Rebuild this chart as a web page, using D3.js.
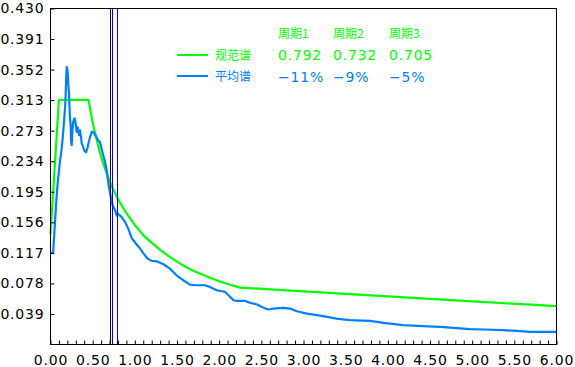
<!DOCTYPE html>
<html>
<head>
<meta charset="utf-8">
<script src="https://cdn.jsdelivr.net/npm/d3@7/dist/d3.min.js"></script>
<style>
  html, body { margin: 0; padding: 0; background: #ffffff; }
  svg { display: block; }
  .num { font-family: "DejaVu Sans", sans-serif; font-size: 14px; letter-spacing: 0.8px; }
  .cjk { font-family: "Noto Sans CJK SC", sans-serif; font-size: 12px; }
</style>
</head>
<body>
<svg id="chart" width="575" height="367"></svg>
<script>
// ---- data ----
const yTickLabels = ["0.039","0.078","0.117","0.156","0.195","0.234","0.273","0.313","0.352","0.391","0.430"];
const xMajorTicks = [0,0.5,1,1.5,2,2.5,3,3.5,4,4.5,5,5.5,6];
const xMinorTicks = [0,0.1,0.2,0.3,0.4,0.5,0.6,0.7,0.8,0.9,1,1.1,1.2,1.3,1.4,1.5,1.6,1.7,1.8,1.9,2,2.1,2.2,2.3,2.4,2.5,2.6,2.7,2.8,2.9,3,3.1,3.2,3.3,3.4,3.5,3.6,3.7,3.8,3.9,4,4.1,4.2,4.3,4.4,4.5,4.6,4.7,4.8,4.9,5,5.1,5.2,5.3,5.4,5.5,5.6,5.7,5.8,5.9,6];

// code spectrum (规范谱): [period, value]
const codeSpectrum = [[0,0.141],[0.1,0.313],[0.45,0.313],[0.5,0.284],[0.55,0.261],[0.6,0.240],[0.65,0.224],[0.7,0.209],[0.75,0.197],[0.8,0.186],[0.9,0.168],[1.0,0.153],[1.1,0.140],[1.2,0.130],[1.3,0.121],[1.4,0.113],[1.5,0.106],[1.6,0.0995],[1.7,0.094],[1.8,0.0895],[1.9,0.085],[2.0,0.081],[2.1,0.0775],[2.25,0.0728],[3.0,0.0680],[4.0,0.0615],[5.0,0.0553],[6.0,0.049]];

// average spectrum (平均谱): [period, value]
const avgSpectrum = [[0,0.117],[0.03,0.117],[0.04,0.133],[0.055,0.16],[0.07,0.185],[0.08,0.2],[0.093,0.215],[0.105,0.227],[0.113,0.236],[0.125,0.244],[0.133,0.252],[0.144,0.263],[0.152,0.274],[0.164,0.291],[0.172,0.302],[0.18,0.319],[0.184,0.336],[0.192,0.355],[0.204,0.349],[0.211,0.332],[0.219,0.323],[0.223,0.31],[0.231,0.289],[0.24,0.28],[0.243,0.263],[0.251,0.255],[0.259,0.272],[0.27,0.285],[0.282,0.289],[0.29,0.289],[0.302,0.28],[0.31,0.272],[0.322,0.278],[0.33,0.272],[0.338,0.268],[0.35,0.274],[0.362,0.265],[0.37,0.257],[0.381,0.255],[0.401,0.248],[0.421,0.246],[0.437,0.251],[0.449,0.257],[0.468,0.265],[0.488,0.272],[0.508,0.272],[0.528,0.268],[0.547,0.265],[0.567,0.261],[0.587,0.259],[0.607,0.25],[0.626,0.242],[0.646,0.234],[0.666,0.223],[0.686,0.206],[0.714,0.189],[0.737,0.178],[0.765,0.172],[0.785,0.165],[0.804,0.167],[0.844,0.163],[0.883,0.157],[0.923,0.148],[0.963,0.136],[1.022,0.128],[1.06,0.123],[1.10,0.117],[1.15,0.110],[1.2,0.107],[1.26,0.1065],[1.34,0.1027],[1.417,0.097],[1.496,0.0886],[1.575,0.0822],[1.654,0.0767],[1.73,0.0758],[1.83,0.0758],[1.89,0.0737],[1.97,0.0694],[2.07,0.0673],[2.11,0.063],[2.17,0.0566],[2.21,0.0558],[2.31,0.0558],[2.37,0.0532],[2.45,0.0512],[2.52,0.0473],[2.58,0.0448],[2.64,0.046],[2.76,0.0468],[2.84,0.046],[2.92,0.0426],[3.04,0.0396],[3.16,0.0375],[3.28,0.0353],[3.39,0.0332],[3.55,0.0311],[3.79,0.0302],[3.95,0.0276],[4.18,0.0247],[4.42,0.0234],[4.62,0.0225],[4.78,0.0212],[4.97,0.0196],[5.13,0.0192],[5.37,0.0183],[5.53,0.0174],[5.69,0.0161],[6.0,0.0161]];

// structure periods (vertical markers)
const periodMarkers = [0.702, 0.726, 0.785];
const markerColors = ["#00007a", "#0000ff", "#0000ff"];

// legend table
const seriesNames = ["规范谱", "平均谱"];
const seriesColors = ["#00ff00", "#0080ff"];
const periodHeaders = ["周期1", "周期2", "周期3"];
const codeValues = ["0.792", "0.732", "0.705"];
const diffValues = ["−11%", "−9%", "−5%"];

// ---- layout ----
const svg = d3.select("#chart");
const pL = 50.5, pR = 556.5, pT = 8.5, pB = 344.5;
const x = d3.scaleLinear().domain([0, 6]).range([pL, pR]);
const y = d3.scaleLinear().domain([0, 0.43]).range([pB, pT]);

// curves
const line = d3.line().x(d => x(d[0])).y(d => y(d[1]));
const series = [codeSpectrum, avgSpectrum];
svg.selectAll("path.curve").data(series).enter().append("path")
  .attr("class", "curve")
  .attr("d", line)
  .attr("fill", "none")
  .attr("stroke", (d, i) => seriesColors[i])
  .attr("stroke-width", 2.2)
  .attr("stroke-linejoin", "round");

// vertical markers
svg.selectAll("line.marker").data(periodMarkers).enter().append("line")
  .attr("class", "marker")
  .attr("x1", d => Math.round(x(d)) + 0.5).attr("x2", d => Math.round(x(d)) + 0.5)
  .attr("y1", pT).attr("y2", pB)
  .attr("stroke", (d, i) => markerColors[i])
  .attr("stroke-width", 1);

// frame
svg.append("rect")
  .attr("x", pL).attr("y", pT)
  .attr("width", pR - pL).attr("height", pB - pT)
  .attr("fill", "none").attr("stroke", "#000").attr("stroke-width", 1);

// y axis
const yTickVals = yTickLabels.map((s, i) => (i + 1) * 0.43 / 11);
const yAxis = d3.axisLeft(y).tickValues(yTickVals)
  .tickFormat((d, i) => yTickLabels[i]).tickSize(-4).tickPadding(6);
const gy = svg.append("g").attr("transform", `translate(${pL},0)`).call(yAxis);
gy.select(".domain").remove();
gy.selectAll("text").attr("class", "num").attr("fill", "#000");
gy.selectAll("line").attr("stroke", "#000");

// x axis minor ticks
const xMinor = d3.axisBottom(x).tickValues(xMinorTicks).tickFormat("").tickSize(-4);
const gxm = svg.append("g").attr("transform", `translate(0,${pB})`).call(xMinor);
gxm.select(".domain").remove();
gxm.selectAll("line").attr("stroke", "#000");

// x axis labels
const xMajor = d3.axisBottom(x).tickValues(xMajorTicks).tickFormat(d3.format(".2f")).tickSize(0).tickPadding(11);
const gx = svg.append("g").attr("transform", `translate(0,${pB})`).call(xMajor);
gx.select(".domain").remove();
gx.selectAll("text").attr("class", "num").attr("fill", "#000");

// legend
const colX = [278, 333, 389];
const rowY = [55, 76];
svg.selectAll("line.leg").data(seriesNames).enter().append("line")
  .attr("class", "leg")
  .attr("x1", 177).attr("x2", 208)
  .attr("y1", (d, i) => rowY[i]).attr("y2", (d, i) => rowY[i])
  .attr("stroke", (d, i) => seriesColors[i]).attr("stroke-width", 2);
svg.selectAll("text.legname").data(seriesNames).enter().append("text")
  .attr("class", "cjk legname")
  .attr("x", 215).attr("y", (d, i) => rowY[i] + 4.5)
  .attr("fill", (d, i) => seriesColors[i]).text(d => d);
svg.selectAll("text.hdr").data(periodHeaders).enter().append("text")
  .attr("class", "cjk hdr")
  .attr("x", (d, i) => colX[i]).attr("y", 37.5)
  .attr("fill", seriesColors[0]).text(d => d);
svg.selectAll("text.cv").data(codeValues).enter().append("text")
  .attr("class", "num cv")
  .attr("x", (d, i) => colX[i]).attr("y", rowY[0] + 5)
  .attr("fill", seriesColors[0]).text(d => d);
svg.selectAll("text.dv").data(diffValues).enter().append("text")
  .attr("class", "num dv")
  .attr("x", (d, i) => colX[i]).attr("y", rowY[1] + 6)
  .attr("fill", seriesColors[1]).text(d => d);
</script>
</body>
</html>
